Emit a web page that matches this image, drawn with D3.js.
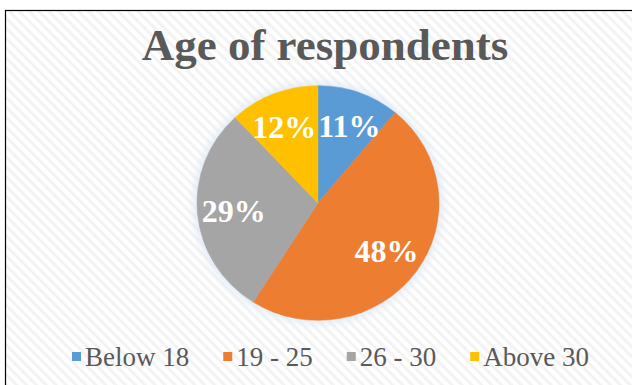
<!DOCTYPE html>
<html>
<head>
<meta charset="utf-8">
<script src="https://cdn.jsdelivr.net/npm/d3@7"></script>
<style>
  html, body { margin: 0; padding: 0; background: #fff; }
  svg { display: block; }
</style>
</head>
<body>
<svg width="632" height="385"></svg>
<script>
// data
const categories = ["Below 18", "19 - 25", "26 - 30", "Above 30"];
const shares = [11, 48, 29, 12];
const colors = ["#5b9bd5", "#ed7d31", "#a5a5a5", "#ffc000"];
const titleText = "Age of respondents";

const width = 632, height = 385;
const svg = d3.select("svg");
const serif = "'Liberation Serif', 'Times New Roman', serif";

// background hatch like excel "light diagonal"
const defs = svg.append("defs");
const pat = defs.append("pattern")
    .attr("id", "hatch")
    .attr("patternUnits", "userSpaceOnUse")
    .attr("width", 7).attr("height", 7)
    .attr("patternTransform", "rotate(45)");
pat.append("rect").attr("width", 7).attr("height", 7).attr("fill", "#ffffff");
pat.append("rect").attr("width", 7).attr("height", 3).attr("fill", "#f3f3f3");

const glow = defs.append("filter").attr("id", "glow")
    .attr("x", "-20%").attr("y", "-20%").attr("width", "140%").attr("height", "140%");
glow.append("feGaussianBlur").attr("stdDeviation", 5);

svg.append("rect")
    .attr("x", 5.5).attr("y", 10.5)
    .attr("width", 640).attr("height", 400)
    .attr("fill", "url(#hatch)")
    .attr("stroke", "#000").attr("stroke-width", 1.2);

// title
svg.append("text")
    .attr("x", 325).attr("y", 60)
    .attr("text-anchor", "middle")
    .style("font-family", serif)
    .style("font-weight", "bold")
    .style("font-size", "45px")
    .style("fill", "#595959")
    .text(titleText);

// pie
const cx = 318, cy = 203, R = 121;
const pie = d3.pie().sort(null).value(d => d)(shares);
const arc = d3.arc().innerRadius(0).outerRadius(R);
const labelArc = d3.arc().innerRadius(R * 0.7).outerRadius(R * 0.7);

const g = svg.append("g")
    .attr("transform", `translate(${cx},${cy}) scale(1,0.97)`);

g.append("circle")
    .attr("r", R + 3)
    .attr("fill", "#dfe9f5")
    .attr("filter", "url(#glow)");

g.selectAll("path.slice")
    .data(pie)
    .enter()
    .append("path")
    .attr("class", "slice")
    .attr("d", arc)
    .attr("fill", (d, i) => colors[i])
    .attr("stroke", (d, i) => colors[i])
    .attr("stroke-width", 0.5);

// data labels, nudged sideways where two of them collide
const lblG = svg.append("g").attr("transform", `translate(${cx},${cy})`);
const labels = lblG.selectAll("text.lbl")
    .data(pie)
    .enter()
    .append("text")
    .attr("class", "lbl")
    .attr("x", d => labelArc.centroid(d)[0])
    .attr("y", d => labelArc.centroid(d)[1] * 0.97)
    .attr("text-anchor", "middle")
    .attr("dy", "0.35em")
    .style("font-family", serif)
    .style("font-weight", "bold")
    .style("font-size", "32px")
    .style("fill", "#ffffff")
    .text(d => d.data + "%");

const nodes = labels.nodes();
for (let a = 0; a < nodes.length; a++) {
    for (let b = a + 1; b < nodes.length; b++) {
        const ba = nodes[a].getBBox(), bb = nodes[b].getBBox();
        const ox = Math.min(ba.x + ba.width, bb.x + bb.width) - Math.max(ba.x, bb.x);
        const oy = Math.min(ba.y + ba.height, bb.y + bb.height) - Math.max(ba.y, bb.y);
        if (ox > 0 && oy > 0) {
            const push = ox / 2 + 1;
            const dir = ba.x < bb.x ? -1 : 1;
            d3.select(nodes[a]).attr("x", +nodes[a].getAttribute("x") + dir * push);
            d3.select(nodes[b]).attr("x", +nodes[b].getAttribute("x") - dir * push);
        }
    }
}

// legend, laid out left to right from the text widths
const legendY = 357;
const lg = svg.append("g");
let xPos = 72;
categories.forEach((c, i) => {
    const it = lg.append("g").attr("transform", `translate(${xPos},${legendY})`);
    it.append("rect")
        .attr("x", 0).attr("y", -5)
        .attr("width", 9).attr("height", 9)
        .attr("fill", colors[i]);
    const t = it.append("text")
        .attr("x", 13).attr("y", 0)
        .attr("dy", "0.35em")
        .style("font-family", serif)
        .style("font-size", "27px")
        .style("fill", "#595959")
        .text(c);
    xPos += 13 + t.node().getComputedTextLength() + 34;
});
</script>
</body>
</html>
